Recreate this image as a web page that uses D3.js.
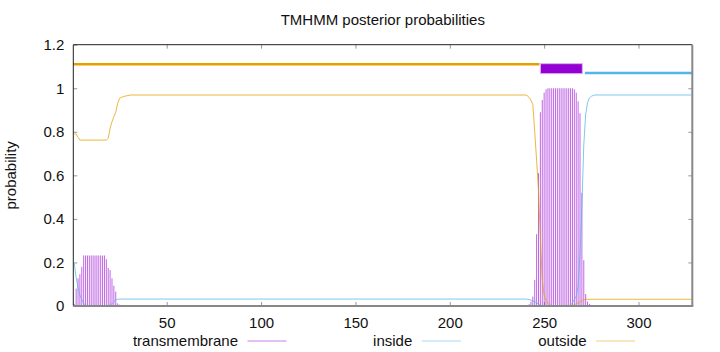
<!DOCTYPE html>
<html lang="en">
<head>
  <meta charset="UTF-8">
  <title>TMHMM posterior probabilities</title>
  <script src="https://d3js.org/d3.v7.min.js"></script>
  <style>
    body { margin: 0; background: #fff; }
    svg text { font-family: "Liberation Sans", Arial, sans-serif; font-size: 15px; fill: #111; }
    .tick line { stroke: #999; }
  </style>
</head>
<body>
<script>
// chart size
var width = 720,
    height = 352;

// residue range and y ticks
var seqLength = 328;
var xTicks = [50, 100, 150, 200, 250, 300];
var yTicks = [0, 0.2, 0.4, 0.6, 0.8, 1, 1.2];

// predicted topology (bars above the plot)
var topoLabels = ["outside", "TMhelix", "inside"];
var topoFrom   = [1, 248, 271];
var topoTo     = [247, 270, 328];
var topoLevel  = [1.11, 1.09, 1.07];

// transmembrane posterior, drawn as impulses (residue, prob)
var tmResidues = [1, 2, 3, 4, 5, 6, 7, 8, 9, 10, 11, 12, 13, 14, 15, 16, 17, 18, 19, 20,
                  21, 22, 23, 24, 25, 26, 27, 28,
                  241, 242, 243, 244, 245, 246, 247, 248, 249, 250, 251, 252, 253, 254, 255,
                  256, 257, 258, 259, 260, 261, 262, 263, 264, 265, 266, 267, 268, 269, 270,
                  271, 272, 273, 274, 275];
var tmProb = [0.01, 0.08, 0.127, 0.146, 0.18, 0.232, 0.232, 0.232, 0.232, 0.232, 0.232, 0.232,
              0.232, 0.232, 0.232, 0.232, 0.232, 0.215, 0.175, 0.165,
              0.127, 0.093, 0.066, 0.012, 0.006, 0.005, 0.004, 0.003,
              0.004, 0.008, 0.02, 0.043, 0.12, 0.33, 0.61, 0.89, 0.946, 0.98, 0.995, 1, 1, 1, 1,
              1, 1, 1, 1, 1, 1, 1, 1, 1, 1, 0.995, 0.98, 0.94, 0.885, 0.52,
              0.21, 0.055, 0.02, 0.01, 0.005];

// inside posterior (line vertices)
var insidePts = [[1, 0.196], [2, 0.13], [3, 0.085], [4, 0.05], [5, 0.03], [6, 0.012], [7, 0.004],
                 [8, 0.002], [19, 0.002], [20, 0.004], [21, 0.01], [22, 0.02], [23, 0.028],
                 [24, 0.031], [25, 0.032], [240, 0.032], [242, 0.03], [243, 0.027], [244, 0.023],
                 [245, 0.019], [246, 0.015], [247, 0.008], [248, 0.004], [249, 0.002],
                 [263, 0.002], [264, 0.004], [265, 0.015], [266, 0.03], [267, 0.045], [268, 0.09],
                 [269, 0.24], [270, 0.46], [271, 0.74], [272, 0.88], [273, 0.935], [274, 0.955],
                 [275, 0.963], [276, 0.967], [277, 0.969], [328, 0.969]];

// outside posterior (line vertices)
var outsidePts = [[1, 0.79], [2, 0.79], [3, 0.775], [4, 0.762], [18, 0.762], [19, 0.77],
                  [20, 0.816], [21, 0.846], [22, 0.87], [23, 0.89], [24, 0.93], [25, 0.954],
                  [26, 0.958], [28, 0.964], [31, 0.969], [240, 0.969], [241, 0.966], [242, 0.958],
                  [243, 0.945], [244, 0.925], [245, 0.8], [246, 0.67], [247, 0.53], [248, 0.31],
                  [249, 0.12], [250, 0.05], [251, 0.025], [252, 0.012], [253, 0.005],
                  [254, 0.002], [264, 0.002], [265, 0.003], [266, 0.006], [267, 0.01],
                  [268, 0.014], [269, 0.019], [270, 0.025], [271, 0.029], [272, 0.031],
                  [328, 0.031]];

var legendNames = ["transmembrane", "inside", "outside"];
var colors = { tm: "#9400d3", inside: "#56b4e9", outside: "#e69f00" };

var margin = { top: 44.7, right: 27.7, bottom: 46, left: 73.3 };

var svg = d3.select("body").append("svg")
    .attr("width", width)
    .attr("height", height);

var x = d3.scaleLinear().domain([0.5, seqLength + 0.5]).range([margin.left, width - margin.right]);
var y = d3.scaleLinear().domain([0, 1.2]).range([height - margin.bottom, margin.top]);

// axes (ticks point inward, mirrored on top/right)
var fmt = function(d) { return d3.format("~g")(d); };

svg.append("g")
    .attr("transform", "translate(" + margin.left + ",0)")
    .call(d3.axisLeft(y).tickValues(yTicks).tickSize(-4).tickPadding(9).tickFormat(fmt))
    .call(function(g) { g.select(".domain").remove(); });

svg.append("g")
    .attr("transform", "translate(" + (width - margin.right) + ",0)")
    .call(d3.axisRight(y).tickValues(yTicks.slice(1, -1)).tickSize(-4).tickFormat(""))
    .call(function(g) { g.select(".domain").remove(); });

svg.append("g")
    .attr("transform", "translate(0," + (height - margin.bottom) + ")")
    .call(d3.axisBottom(x).tickValues(xTicks).tickSize(-4).tickPadding(11).tickFormat(fmt))
    .call(function(g) { g.select(".domain").remove(); });

svg.append("g")
    .attr("transform", "translate(0," + margin.top + ")")
    .call(d3.axisTop(x).tickValues(xTicks).tickSize(-4).tickFormat(""))
    .call(function(g) { g.select(".domain").remove(); });

svg.selectAll(".tick text").attr("fill", "#111").style("font-size", "15px");

// transmembrane impulses
svg.append("g").selectAll("line")
    .data(tmResidues)
    .enter().append("line")
    .attr("x1", function(d) { return x(d); })
    .attr("x2", function(d) { return x(d); })
    .attr("y1", y(0))
    .attr("y2", function(d, i) { return y(tmProb[i]); })
    .attr("stroke", colors.tm)
    .attr("stroke-opacity", 0.6)
    .attr("stroke-width", 1);

var line = d3.line()
    .x(function(d) { return x(d[0]); })
    .y(function(d) { return y(d[1]); });

svg.append("path")
    .datum(insidePts)
    .attr("d", line)
    .attr("fill", "none")
    .attr("stroke", colors.inside)
    .attr("stroke-opacity", 0.75)
    .attr("stroke-width", 1);

svg.append("path")
    .datum(outsidePts)
    .attr("d", line)
    .attr("fill", "none")
    .attr("stroke", colors.outside)
    .attr("stroke-opacity", 0.75)
    .attr("stroke-width", 1);

// topology bars
topoLabels.forEach(function(name, i) {
  var x0 = Math.max(x(topoFrom[i] - 0.5), margin.left);
  var x1 = Math.min(x(topoTo[i] + 0.5), width - margin.right);
  if (name === "TMhelix") {
    svg.append("rect")
        .attr("x", x0 + 1)
        .attr("y", y(topoLevel[i]) - 5)
        .attr("width", x1 - x0 - 1.5)
        .attr("height", 10)
        .attr("fill", colors.tm)
        .attr("stroke", "#dcb2f0")
        .attr("stroke-width", 1);
  } else {
    svg.append("line")
        .attr("x1", name === "inside" ? x0 + 2 : x0)
        .attr("x2", x1)
        .attr("y1", y(topoLevel[i]))
        .attr("y2", y(topoLevel[i]))
        .attr("stroke", name === "inside" ? colors.inside : colors.outside)
        .attr("stroke-width", 2.6);
  }
});

// border
var bx0 = margin.left, bx1 = width - margin.right, by0 = margin.top, by1 = height - margin.bottom;
svg.append("line").attr("x1", bx0).attr("x2", bx1).attr("y1", by0).attr("y2", by0)
    .attr("stroke", "#222").attr("stroke-width", 1);
svg.append("line").attr("x1", bx0).attr("x2", bx0).attr("y1", by0).attr("y2", by1)
    .attr("stroke", "#222").attr("stroke-width", 1);
svg.append("line").attr("x1", bx0).attr("x2", bx1 + 1).attr("y1", by1).attr("y2", by1)
    .attr("stroke", "#888").attr("stroke-width", 2);
svg.append("line").attr("x1", bx1).attr("x2", bx1).attr("y1", by0).attr("y2", by1)
    .attr("stroke", "#888").attr("stroke-width", 2);

// title and y label
svg.append("text")
    .attr("x", (bx0 + bx1) / 2)
    .attr("y", 25)
    .attr("text-anchor", "middle")
    .text("TMHMM posterior probabilities");

svg.append("text")
    .attr("transform", "translate(16," + ((by0 + by1) / 2) + ") rotate(-90)")
    .attr("text-anchor", "middle")
    .text("probability");

// legend along the bottom
var legendColors = [colors.tm, colors.inside, colors.outside];
legendNames.forEach(function(name, i) {
  var tx = 238 + i * 174.3;
  svg.append("text")
      .attr("x", tx)
      .attr("y", 345.7)
      .attr("text-anchor", "end")
      .text(name);
  svg.append("line")
      .attr("x1", tx + 9.5)
      .attr("x2", tx + 48.5)
      .attr("y1", 341)
      .attr("y2", 341)
      .attr("stroke", legendColors[i])
      .attr("stroke-opacity", 0.5)
      .attr("stroke-width", 1);
});
</script>
</body>
</html>
